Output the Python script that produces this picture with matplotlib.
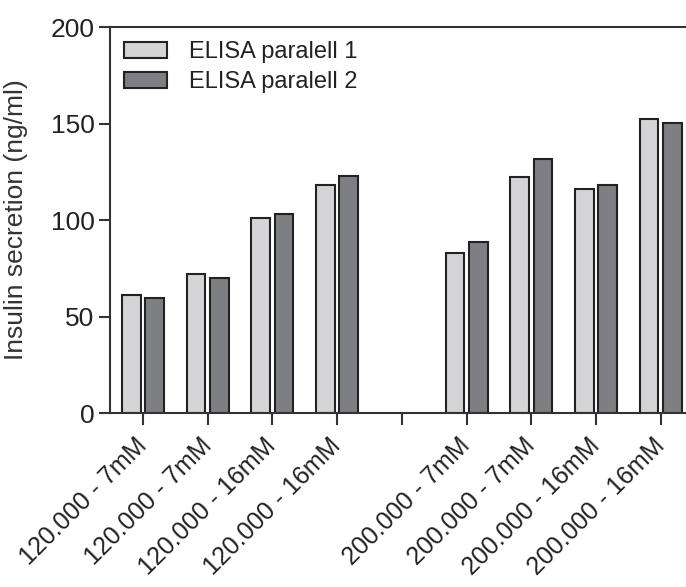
import matplotlib.pyplot as plt
import numpy as np

plt.rcParams["font.family"] = ["Liberation Sans", "DejaVu Sans"]

# categories (empty slot separates the two groups)
categories = [
    "120.000 - 7mM",
    "120.000 - 7mM",
    "120.000 - 16mM",
    "120.000 - 16mM",
    "",
    "200.000 - 7mM",
    "200.000 - 7mM",
    "200.000 - 16mM",
    "200.000 - 16mM",
]
parallel_1 = [61.2, 72.1, 100.9, 118.2, np.nan, 83.1, 122.1, 116.1, 152.5]
parallel_2 = [59.5, 69.9, 103.2, 122.6, np.nan, 88.5, 131.5, 118.0, 150.3]
series_labels = ["ELISA paralell 1", "ELISA paralell 2"]
y_ticks = [0, 50, 100, 150, 200]

LIGHT = "#d4d4d6"
DARK = "#7e7f83"
AXIS = "#333333"
TEXT = "#222222"


def plot_bars(save_path="out.png"):
    fig = plt.figure(figsize=(6.86, 5.87), dpi=100)
    ax = fig.add_axes([0.1603, 0.296, 0.85, 0.658])

    x = np.arange(len(categories))
    width = 0.29
    offset = 0.18
    ax.bar(x - offset, parallel_1, width, color=LIGHT, edgecolor="#222222",
           linewidth=1.5, label=series_labels[0])
    ax.bar(x + offset, parallel_2, width, color=DARK, edgecolor="#222222",
           linewidth=1.5, label=series_labels[1])

    ax.set_xlim(-0.51, 8.5)
    ax.set_ylim(0, 200)
    ax.set_yticks(y_ticks)
    ax.set_xticks(x)
    ax.set_xticklabels(categories, rotation=45, ha="right", va="center",
                       rotation_mode="anchor", fontsize=18, color=TEXT)
    ax.tick_params(axis="x", length=8.5, width=1.5, color=AXIS, pad=12)
    ax.tick_params(axis="y", length=8, width=1.5, color=AXIS, labelsize=19,
                   labelcolor=TEXT, pad=3)
    ax.set_ylabel("Insulin secretion (ng/ml)", fontsize=19, color="#333333")
    ax.yaxis.set_label_coords(-0.141, 0.5)

    for side in ["left", "bottom", "top", "right"]:
        ax.spines[side].set_linewidth(1.5)
        ax.spines[side].set_color(AXIS)

    ax.legend(loc="upper left", frameon=False, fontsize=17,
              handlelength=1.82, handleheight=0.68, handletextpad=0.93,
              labelspacing=0.35, borderaxespad=0.15, borderpad=0.45,
              labelcolor=TEXT)

    fig.savefig(save_path, dpi=100)
    plt.close(fig)


if __name__ == "__main__":
    plot_bars()
